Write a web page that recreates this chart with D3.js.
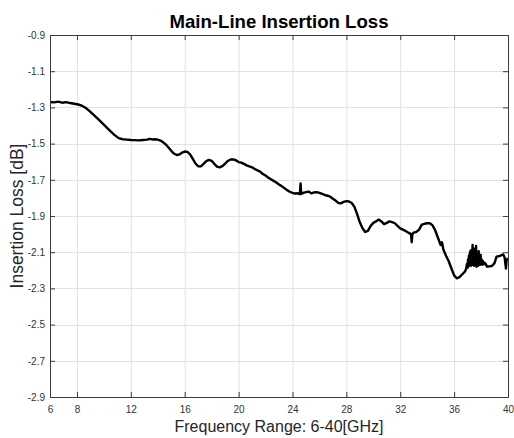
<!DOCTYPE html>
<html>
<head>
<meta charset="utf-8">
<script src="https://cdn.jsdelivr.net/npm/d3@7"></script>
<style>
  body { margin: 0; background: #fff; }
  svg { display: block; }
  text { font-family: "Liberation Sans", Arial, Helvetica, sans-serif; }
</style>
</head>
<body>
<svg id="chart" width="514" height="438"></svg>
<script>
// Measured main-line insertion loss versus frequency
const freqGHz = [
  6.0, 6.3, 6.6, 6.9, 7.2, 7.5, 7.8, 8.1, 8.4, 8.7,
  9.0, 9.3, 9.6, 9.9, 10.2, 10.5, 10.8, 11.1, 11.4, 11.7,
  12.0, 12.3, 12.6, 12.9, 13.2, 13.4, 13.6, 13.8, 14.0, 14.2,
  14.4, 14.6, 14.8, 15.0, 15.2, 15.4, 15.6, 15.8, 16.0, 16.2,
  16.4, 16.6, 16.8, 17.0, 17.2, 17.4, 17.6, 17.8, 18.0, 18.2,
  18.4, 18.6, 18.8, 19.0, 19.2, 19.4, 19.6, 19.8, 20.0, 20.2,
  20.4, 20.6, 20.8, 21.0, 21.2, 21.4, 21.6, 21.8, 22.0, 22.2,
  22.4, 22.6, 22.8, 23.0, 23.2, 23.4, 23.6, 23.8, 24.0, 24.2,
  24.4, 24.55, 24.6, 24.65, 24.8, 25.0, 25.2, 25.4, 25.6, 25.8,
  26.0, 26.2, 26.4, 26.6, 26.8, 27.0, 27.2, 27.4, 27.6, 27.8,
  28.0, 28.2, 28.4, 28.6, 28.8, 29.0, 29.2, 29.4, 29.6, 29.8,
  30.0, 30.2, 30.4, 30.6, 30.8, 31.0, 31.2, 31.4, 31.6, 31.8,
  32.0, 32.2, 32.4, 32.6, 32.8, 32.85, 32.9, 33.0, 33.2, 33.4,
  33.6, 33.8, 34.0, 34.2, 34.4, 34.6, 34.8, 35.0, 35.1, 35.2,
  35.4, 35.6, 35.8, 36.0, 36.2, 36.4, 36.6, 36.8, 36.9, 36.95,
  37.0, 37.03, 37.06, 37.1, 37.13, 37.17, 37.2, 37.23, 37.27, 37.3,
  37.33, 37.37, 37.4, 37.43, 37.47, 37.5, 37.53, 37.57, 37.6, 37.63,
  37.67, 37.7, 37.73, 37.77, 37.8, 37.83, 37.87, 37.9, 37.93, 37.97,
  38.0, 38.05, 38.1, 38.15, 38.2, 38.3, 38.45, 38.6, 38.8, 39.0,
  39.15, 39.4, 39.65, 39.75, 39.85, 39.9, 40.0
];
const lossDB = [
  -1.270, -1.272, -1.268, -1.274, -1.271, -1.276, -1.280, -1.284, -1.292, -1.305,
  -1.325, -1.345, -1.366, -1.388, -1.410, -1.432, -1.453, -1.470, -1.476, -1.478,
  -1.480, -1.481, -1.482, -1.480, -1.478, -1.474, -1.477, -1.476, -1.478, -1.483,
  -1.493, -1.505, -1.522, -1.540, -1.555, -1.563, -1.560, -1.550, -1.544, -1.546,
  -1.560, -1.585, -1.610, -1.625, -1.626, -1.612, -1.597, -1.590, -1.595, -1.612,
  -1.627, -1.631, -1.624, -1.610, -1.596, -1.588, -1.587, -1.592, -1.602, -1.605,
  -1.612, -1.620, -1.626, -1.631, -1.640, -1.648, -1.655, -1.668, -1.676, -1.688,
  -1.697, -1.706, -1.715, -1.726, -1.735, -1.746, -1.757, -1.766, -1.772, -1.776,
  -1.774, -1.780, -1.720, -1.778, -1.772, -1.768, -1.765, -1.775, -1.770, -1.768,
  -1.772, -1.778, -1.784, -1.788, -1.793, -1.805, -1.815, -1.828, -1.830, -1.822,
  -1.818, -1.820, -1.828, -1.850, -1.890, -1.935, -1.968, -1.988, -1.982, -1.955,
  -1.938, -1.930, -1.920, -1.930, -1.945, -1.938, -1.930, -1.934, -1.940, -1.955,
  -1.968, -1.975, -1.983, -1.992, -2.000, -2.045, -2.000, -1.992, -1.988, -1.975,
  -1.948, -1.943, -1.940, -1.940, -1.952, -1.980, -2.020, -2.060, -2.045, -2.085,
  -2.120, -2.150, -2.190, -2.228, -2.244, -2.238, -2.222, -2.208, -2.190, -2.165,
  -2.185, -2.140, -2.180, -2.120, -2.175, -2.100, -2.170, -2.090, -2.175, -2.120,
  -2.165, -2.060, -2.170, -2.100, -2.175, -2.080, -2.170, -2.110, -2.175, -2.065,
  -2.180, -2.100, -2.170, -2.120, -2.175, -2.095, -2.165, -2.130, -2.170, -2.115,
  -2.165, -2.140, -2.170, -2.150, -2.165, -2.160, -2.180, -2.178, -2.176, -2.160,
  -2.125, -2.120, -2.112, -2.130, -2.190, -2.140, -2.134
];
const xTickValues = [6, 8, 12, 16, 20, 24, 28, 32, 36, 40];
const yTickValues = [-0.9, -1.1, -1.3, -1.5, -1.7, -1.9, -2.1, -2.3, -2.5, -2.7, -2.9];
const titleText = "Main-Line Insertion Loss";
const xLabelText = "Frequency Range: 6-40[GHz]";
const yLabelText = "Insertion Loss [dB]";

const svg = d3.select("#chart");
const W = 514, H = 438;
const margin = { top: 35, right: 6, bottom: 41, left: 50 };
const plotW = W - margin.left - margin.right;
const plotH = H - margin.top - margin.bottom;

svg.append("rect").attr("width", W).attr("height", H).attr("fill", "#fff");

const x = d3.scaleLinear().domain([6, 40]).range([0, plotW]);
const y = d3.scaleLinear().domain([-2.9, -0.9]).range([plotH, 0]);

const g = svg.append("g").attr("transform", `translate(${margin.left},${margin.top})`);

const gridColor = "#e1e1e1";
const axisColor = "#3c3c3c";
const tickColor = "#333";

// grid
g.append("g").selectAll("line").data(xTickValues.slice(1, -1)).join("line")
  .attr("x1", d => x(d) + 0.5).attr("x2", d => x(d) + 0.5)
  .attr("y1", 0).attr("y2", plotH)
  .attr("stroke", gridColor).attr("stroke-width", 1);
g.append("g").selectAll("line").data(yTickValues.slice(1, -1)).join("line")
  .attr("y1", d => Math.round(y(d)) + 0.5).attr("y2", d => Math.round(y(d)) + 0.5)
  .attr("x1", 0).attr("x2", plotW)
  .attr("stroke", gridColor).attr("stroke-width", 1);

// data line
const line = d3.line().x((d, i) => x(freqGHz[i])).y(d => y(d));
g.append("path").datum(lossDB)
  .attr("d", line)
  .attr("fill", "none")
  .attr("stroke", "#000")
  .attr("stroke-width", 2.4)
  .attr("stroke-linejoin", "round");

const fmtY = d => d.toFixed(1);

// axes with inward ticks on all four sides
const styleAxis = sel => {
  sel.select(".domain").remove();
  sel.selectAll(".tick line").attr("stroke", axisColor);
  sel.selectAll(".tick text").attr("fill", tickColor).style("font-size", "10px")
    .style("font-family", '"Liberation Sans", Arial, sans-serif');
};

g.append("g").attr("transform", `translate(0,${plotH})`)
  .call(d3.axisBottom(x).tickValues(xTickValues).tickSize(-5).tickPadding(9).tickFormat(d3.format("d")))
  .call(styleAxis);
g.append("g")
  .call(d3.axisTop(x).tickValues(xTickValues).tickSize(-5).tickFormat(""))
  .call(styleAxis);
g.append("g")
  .call(d3.axisLeft(y).tickValues(yTickValues).tickSize(-5).tickPadding(5).tickFormat(fmtY))
  .call(styleAxis);
g.append("g").attr("transform", `translate(${plotW},0)`)
  .call(d3.axisRight(y).tickValues(yTickValues).tickSize(-5).tickFormat(""))
  .call(styleAxis);

// box
g.append("rect").attr("x", 0.5).attr("y", 0.5).attr("width", plotW).attr("height", plotH)
  .attr("fill", "none").attr("stroke", axisColor).attr("stroke-width", 1);

// title and labels
svg.append("text").attr("x", margin.left + plotW / 2).attr("y", 28)
  .attr("text-anchor", "middle").style("font-size", "18.6px").style("font-weight", "bold")
  .attr("fill", "#000").text(titleText);
svg.append("text").attr("x", margin.left + plotW / 2).attr("y", 432)
  .attr("text-anchor", "middle").style("font-size", "16px")
  .attr("fill", "#262626").text(xLabelText);
svg.append("text").attr("transform", `translate(23,${margin.top + plotH / 2}) rotate(-90)`)
  .attr("text-anchor", "middle").style("font-size", "17.5px")
  .attr("fill", "#262626").text(yLabelText);
</script>
</body>
</html>
